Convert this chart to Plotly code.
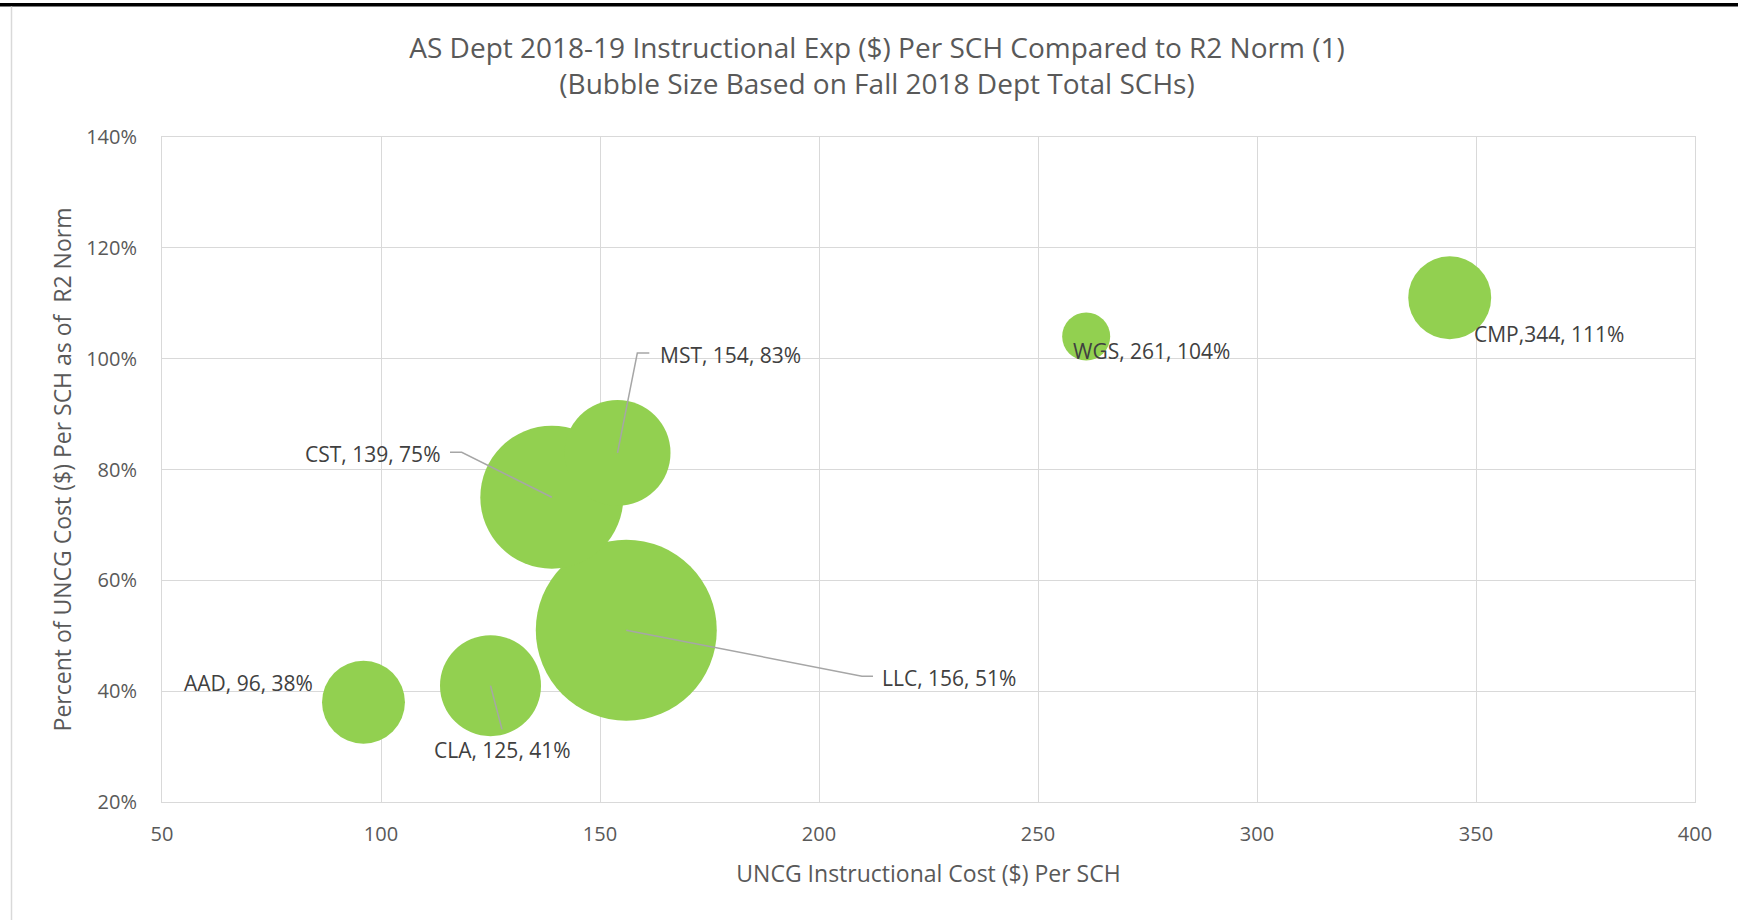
import plotly.graph_objects as go

# ---- data ----
depts = ["AAD", "CLA", "LLC", "CST", "MST", "WGS", "CMP"]
cost_per_sch = [96, 125, 156, 139, 154, 261, 344]
pct_of_norm = [0.38, 0.41, 0.51, 0.75, 0.83, 1.04, 1.11]
total_sch = [2940, 4360, 14000, 8740, 4800, 985, 2940]
label_texts = ["AAD, 96, 38%", "CLA, 125, 41%", "LLC, 156, 51%", "CST, 139, 75%",
               "MST, 154, 83%", "WGS, 261, 104%", "CMP,344, 111%"]
x_ticks = [50, 100, 150, 200, 250, 300, 350, 400]
y_ticks = [0.2, 0.4, 0.6, 0.8, 1.0, 1.2, 1.4]

# ---- styling / layout constants ----
W, H = 1738, 920
ML, MR, MT, MB = 162, 43, 137, 118
GREEN = "#92D050"
GRID = "#D9D9D9"
AXIS_TXT = "#595959"
LBL_TXT = "#404040"
LEADER = "#A6A6A6"
FONT = "Open Sans"
MAX_DIAM = 181

sizeref = 2.0 * max(total_sch) / (MAX_DIAM ** 2)

fig = go.Figure()
fig.add_trace(go.Scatter(
    x=cost_per_sch, y=pct_of_norm, mode="markers",
    marker=dict(size=total_sch, sizemode="area", sizeref=sizeref,
                color=GREEN, line=dict(width=0), opacity=1),
    hovertext=depts, showlegend=False,
))

# label placements (pixel offsets from each bubble centre)
label_pos = {
    "AAD": dict(xshift=-48, yshift=19, xanchor="right"),
    "CLA": dict(xshift=11.5, yshift=-64, xanchor="center"),
    "LLC": dict(xshift=254, yshift=-48, xanchor="left"),
    "CST": dict(xshift=-109, yshift=43, xanchor="right"),
    "MST": dict(xshift=40, yshift=98, xanchor="left"),
    "WGS": dict(xshift=-15, yshift=-14.5, xanchor="left"),
    "CMP": dict(xshift=22, yshift=-36, xanchor="left"),
}
# leader-line paths in pixels relative to bubble centre (y up)
leaders = {
    "CLA": "M 0,0 L 11.5,-43.7",
    "LLC": "M 0,0 L 235.7,-46 L 246.7,-46",
    "CST": "M 0,0 L -90.1,44.9 L -101.8,44.9",
    "MST": "M 0,0 L 19.8,99.9 L 31.8,99.9",
}

annotations = []
shapes = []
for d, xv, yv, t in zip(depts, cost_per_sch, pct_of_norm, label_texts):
    p = label_pos[d]
    annotations.append(dict(
        x=xv, y=yv, xref="x", yref="y", text=t, showarrow=False,
        xshift=p["xshift"], yshift=p["yshift"], xanchor=p["xanchor"], yanchor="middle",
        font=dict(family=FONT, size=21, color=LBL_TXT),
    ))
    if d in leaders:
        shapes.append(dict(
            type="path", xref="x", yref="y", xsizemode="pixel", ysizemode="pixel",
            xanchor=xv, yanchor=yv, path=leaders[d],
            line=dict(color=LEADER, width=1.5), layer="above",
        ))

# chart frame decorations (paper coords from pixels)
pw, ph = W - ML - MR, H - MT - MB
def px(xp):
    return (xp - ML) / pw
def py(yp):
    return (H - MB - yp) / ph

shapes.append(dict(type="rect", xref="paper", yref="paper",
                   x0=px(0), x1=px(W), y0=py(6.5), y1=py(3),
                   fillcolor="black", line=dict(width=0), layer="above"))
shapes.append(dict(type="line", xref="paper", yref="paper",
                   x0=px(11.5), x1=px(11.5), y0=py(6.5), y1=py(H),
                   line=dict(color=GRID, width=1.5), layer="above"))

fig.update_layout(
    width=W, height=H,
    margin=dict(l=ML, r=MR, t=MT, b=MB, autoexpand=False),
    paper_bgcolor="white", plot_bgcolor="white",
    font=dict(family=FONT, color=AXIS_TXT),
    title=dict(
        text="AS Dept 2018-19 Instructional Exp ($) Per SCH Compared to R2 Norm (1)<br>"
             "(Bubble Size Based on Fall 2018 Dept Total SCHs)",
        x=877 / W, xref="container", xanchor="center",
        y=1 - 57.5 / H, yref="container", yanchor="middle",
        font=dict(family=FONT, size=28, color=AXIS_TXT),
    ),
    xaxis=dict(
        range=[50, 400], tickvals=x_ticks, showgrid=True, gridcolor=GRID, gridwidth=1,
        zeroline=False, showline=True, linecolor=GRID, mirror=True,
        ticks="", ticklabelstandoff=14,
        tickfont=dict(family=FONT, size=20, color=AXIS_TXT),
        title=dict(text="UNCG Instructional Cost ($) Per SCH", standoff=19,
                   font=dict(family=FONT, size=23, color=AXIS_TXT)),
        fixedrange=True,
    ),
    yaxis=dict(
        range=[0.2, 1.4], tickvals=y_ticks, tickformat=".0%", showgrid=True,
        gridcolor=GRID, gridwidth=1, zeroline=False, showline=True, linecolor=GRID,
        mirror=True, ticks="", ticklabelstandoff=20,
        tickfont=dict(family=FONT, size=20, color=AXIS_TXT),
        title=dict(text="Percent of UNCG Cost ($) Per SCH as of\u00a0 R2 Norm", standoff=8,
                   font=dict(family=FONT, size=23, color=AXIS_TXT)),
        fixedrange=True,
    ),
    annotations=annotations,
    shapes=shapes,
)

fig.write_html("out.html", post_script="document.body.style.margin='0';",
               config={"displayModeBar": False})
